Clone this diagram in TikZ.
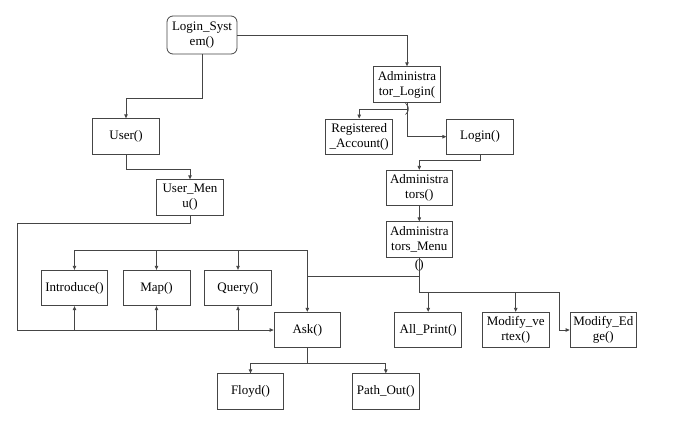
\documentclass[tikz,border=0pt]{standalone}
\usepackage{fontspec}
\setmainfont{Liberation Serif}
\usetikzlibrary{arrows.meta}
\definecolor{ln}{HTML}{454545}
\tikzset{
  box/.style={draw=ln, line width=0.8pt, minimum width=66.5pt, minimum height=35.5pt,
    inner sep=0pt, align=center, font=\fontsize{13}{15}\selectfont},
  arr/.style={draw=ln, line width=0.8pt, -{Triangle[length=4pt,width=3.5pt]}},
  ln/.style={draw=ln, line width=0.8pt},
  tail/.style={inner sep=0pt, font=\fontsize{13}{15}\selectfont}
}
\begin{document}
\begin{tikzpicture}[x=1pt,y=-1pt]
\useasboundingbox (0,0) rectangle (679,423);
% nodes
\node[box, rounded corners=6pt, minimum width=70pt, minimum height=38pt] (LS) at (202,35) {Login\_Syst\\em()};
\node[box] (AL) at (407,84.5) {Administra\\tor\_Login(};
\node[tail, anchor=north] (ALt) at (407,103.5) {)};
\node[box] (User) at (126,136.5) {User()};
\node[box] (UM) at (190,197.5) {User\_Men\\u()};
\node[box, minimum width=67pt] (RA) at (359.2,136.7) {Registered\\\_Account()};
\node[box] (Login) at (480,136.7) {Login()};
\node[box] (Adms) at (419.3,188) {Administra\\tors()};
\node[box] (AM) at (419.3,239.5) {Administra\\tors\_Menu};
\node[tail, anchor=north] (AMt) at (419.3,259.3) {()};
\node[box] (Intro) at (74.5,288) {Introduce()};
\node[box, minimum width=67pt] (Map) at (156.5,288) {Map()};
\node[box] (Query) at (238,288) {Query()};
\node[box] (Ask) at (307.3,330) {Ask()};
\node[box, minimum width=67pt] (AP) at (428.2,330) {All\_Print()};
\node[box] (MV) at (515.7,330) {Modify\_ve\\rtex()};
\node[box] (ME) at (603.3,330) {Modify\_Ed\\ge()};
\node[box] (Floyd) at (250.5,391.5) {Floyd()};
\node[box, minimum width=67pt] (PO) at (385.8,391.5) {Path\_Out()};
% junction coordinates
\coordinate (j1) at (126,98.7);
\coordinate (j2) at (190,169);
\coordinate (j3) at (17.3,223.3);
\coordinate (j4) at (307.3,250);
\coordinate (j5) at (419.3,276);
\coordinate (j6) at (559.7,292);
\coordinate (j7) at (307.3,363.3);
\coordinate (j8) at (407,109);
\coordinate (j9) at (419.3,160);
% connectors
\draw[arr] (LS.east) -| (AL.north);
\draw[arr] (LS.south) |- (j1) -- (User.north);
\draw[arr] (User.south) |- (j2) -- (UM.north);
\draw[arr] (UM.south) |- (j3) |- (Ask.west);
\draw[arr] (Intro.south |- Ask.west) -- (Intro.south);
\draw[arr] (Map.south |- Ask.west) -- (Map.south);
\draw[arr] (Query.south |- Ask.west) -- (Query.south);
\draw[ln] (Intro.north |- j4) -- (j4);
\draw[arr] (Intro.north |- j4) -- (Intro.north);
\draw[arr] (Map.north |- j4) -- (Map.north);
\draw[arr] (Query.north |- j4) -- (Query.north);
\draw[arr] (j4) -- (Ask.north);
\draw[ln] (j5) -- (Ask.north |- j5);
\draw[arr] (AM.south) |- (j6) |- (ME.west);
\draw[arr] (AP.north |- j6) -- (AP.north);
\draw[arr] (MV.north |- j6) -- (MV.north);
\draw[ln] (Ask.south) -- (j7);
\draw[arr] (j7) -| (Floyd.north);
\draw[arr] (j7) -| (PO.north);
\draw[arr] (AL.south) |- (Login.west);
\draw[arr] (j8) -| (RA.north);
\draw[arr] (Login.south) |- (j9) -- (Adms.north);
\draw[arr] (Adms.south) -- (AM.north);
\end{tikzpicture}
\end{document}
